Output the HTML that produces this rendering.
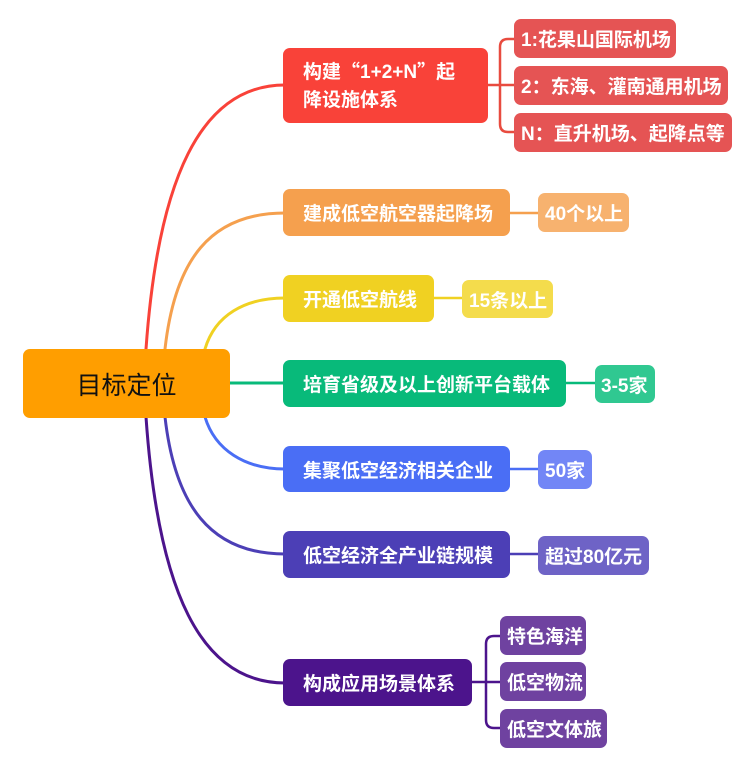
<!DOCTYPE html>
<html><head><meta charset="utf-8"><style>
body{margin:0;width:747px;height:773px;background:#fff;position:relative;overflow:hidden;font-family:"Liberation Sans","Noto Sans CJK SC",sans-serif;}
.n{position:absolute;border-radius:7px;color:#fff;font-weight:bold;font-size:19px;display:flex;align-items:center;box-sizing:border-box;white-space:nowrap;}
.q{font-family:"Noto Sans CJK SC",sans-serif;}
svg{position:absolute;left:0;top:0;}
</style></head><body>
<svg width="747" height="773" fill="none" stroke-width="3" stroke-linecap="round">
<path d="M146,349 C158,180 200,85 285,85" stroke="#F94239"/>
<path d="M165,349 C175,260 210,213 285,213" stroke="#F5A04E"/>
<path d="M205,349 C215,315 245,298 285,298" stroke="#F0D122"/>
<path d="M230,383 L285,383" stroke="#08BA7A"/>
<path d="M205,417 C215,450 245,469 285,469" stroke="#4A6EF5"/>
<path d="M165,417 C175,505 210,554 285,554" stroke="#4C3FB6"/>
<path d="M146,417 C158,590 200,683 285,683" stroke="#4C148C"/>
<g stroke-width="2.5">
<path d="M488,85 L500,85 M514,39 L508,39 Q500,39 500,47 L500,124 Q500,132 508,132 L514,132 M500,85 L514,85" stroke="#E84B3F"/>
<path d="M510,213 L538,213" stroke="#F5A04E"/>
<path d="M434,298 L462,298" stroke="#F0D122"/>
<path d="M566,383 L595,383" stroke="#08BA7A"/>
<path d="M510,469 L538,469" stroke="#4A6EF5"/>
<path d="M510,554 L538,554" stroke="#4C3FB6"/>
<path d="M472,682 L486,682 M500,636 L494,636 Q486,636 486,644 L486,720 Q486,728 494,728 L500,728 M486,682 L500,682" stroke="#4C148C"/>
</g>
</svg>
<div class="n" style="left:23px;top:349px;width:207px;height:69px;background:#FF9E00;color:#111;font-weight:normal;font-size:25px;justify-content:center;">目标定位</div>
<div class="n" style="left:283px;top:48px;width:205px;height:75px;background:#F94239;padding-left:20px;line-height:28px;"><div>构建<span class="q">“</span>1+2+N<span class="q">”</span>起<br>降设施体系</div></div>
<div class="n" style="left:514px;top:19px;width:162px;height:39px;background:#E55454;padding-left:7px;">1:花果山国际机场</div>
<div class="n" style="left:514px;top:66px;width:214px;height:39px;background:#E55454;padding-left:7px;">2：东海、灌南通用机场</div>
<div class="n" style="left:514px;top:113px;width:218px;height:39px;background:#E55454;padding-left:7px;">N：直升机场、起降点等</div>
<div class="n" style="left:283px;top:189px;width:227px;height:47px;background:#F5A04E;padding-left:20px;">建成低空航空器起降场</div>
<div class="n" style="left:538px;top:193px;width:91px;height:39px;background:#F7B26F;padding-left:7px;">40个以上</div>
<div class="n" style="left:283px;top:275px;width:151px;height:47px;background:#F0D122;padding-left:20px;">开通低空航线</div>
<div class="n" style="left:462px;top:280px;width:91px;height:38px;background:#F4DC4C;padding-left:7px;">15条以上</div>
<div class="n" style="left:283px;top:360px;width:283px;height:47px;background:#08BA7A;padding-left:20px;">培育省级及以上创新平台载体</div>
<div class="n" style="left:595px;top:365px;width:60px;height:38px;background:#30C891;padding-left:6px;">3-5家</div>
<div class="n" style="left:283px;top:446px;width:227px;height:46px;background:#4A6EF5;padding-left:20px;">集聚低空经济相关企业</div>
<div class="n" style="left:538px;top:450px;width:54px;height:39px;background:#7286F6;padding-left:7px;">50家</div>
<div class="n" style="left:283px;top:531px;width:227px;height:47px;background:#4C3FB6;padding-left:20px;">低空经济全产业链规模</div>
<div class="n" style="left:538px;top:536px;width:111px;height:39px;background:#6E63C6;padding-left:7px;">超过80亿元</div>
<div class="n" style="left:283px;top:659px;width:189px;height:47px;background:#4C148C;padding-left:20px;">构成应用场景体系</div>
<div class="n" style="left:500px;top:616px;width:86px;height:39px;background:#6F42A0;padding-left:7px;">特色海洋</div>
<div class="n" style="left:500px;top:662px;width:86px;height:39px;background:#6F42A0;padding-left:7px;">低空物流</div>
<div class="n" style="left:500px;top:709px;width:107px;height:39px;background:#6F42A0;padding-left:7px;">低空文体旅</div>
</body></html>
